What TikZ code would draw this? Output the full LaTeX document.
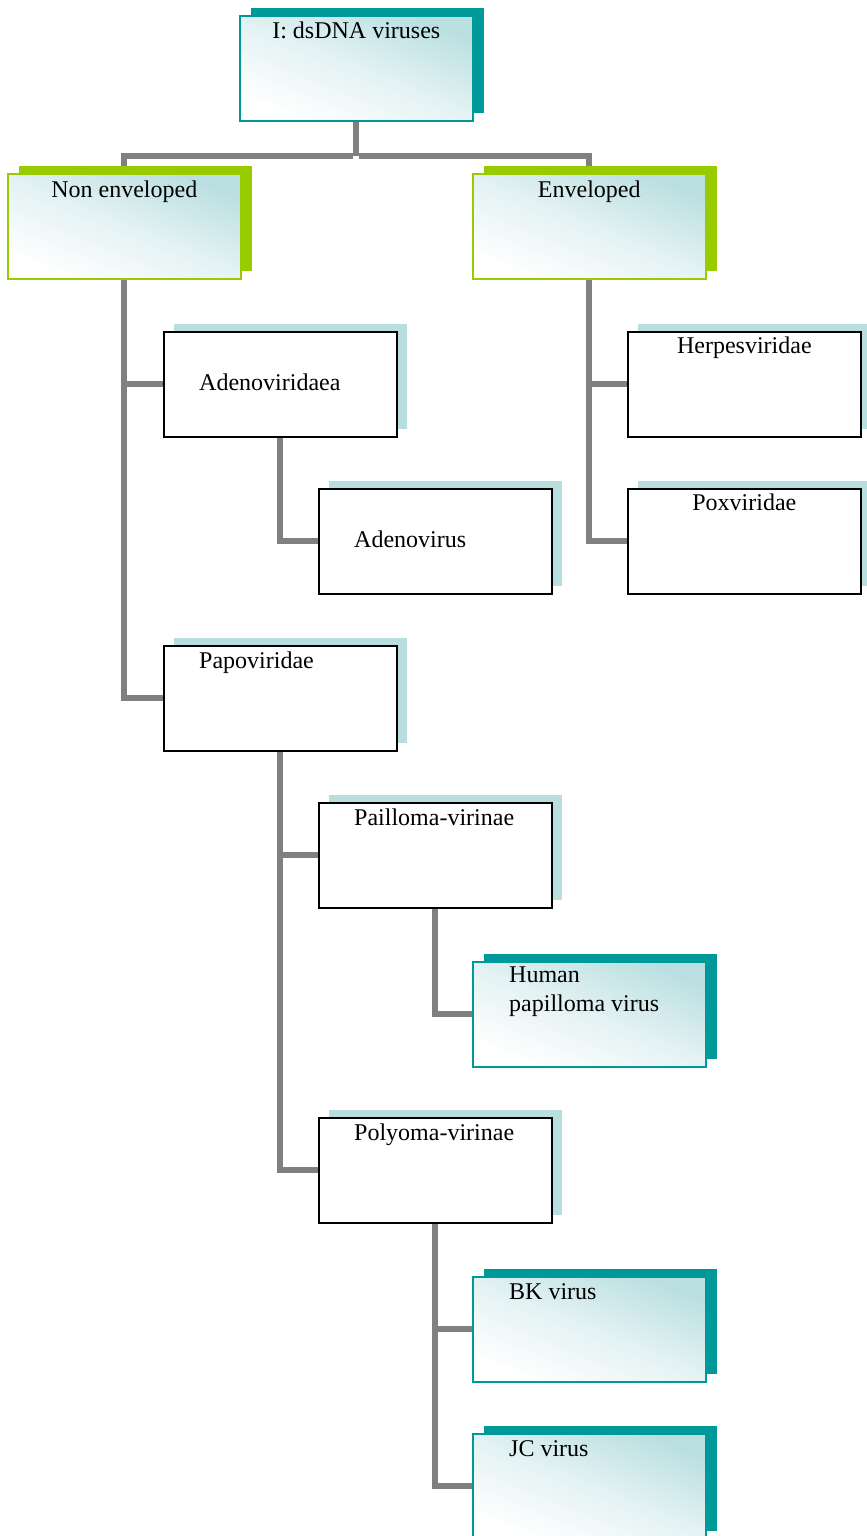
\documentclass[tikz,border=0pt]{standalone}
\usepackage{fontspec}
\setmainfont{Liberation Serif}
\usetikzlibrary{shadows,backgrounds}
\definecolor{tealdark}{HTML}{009999}
\definecolor{limegreen}{HTML}{99CC00}
\definecolor{paleteal}{HTML}{B8DEE0}
\definecolor{gradteal}{HTML}{BADFE1}
\definecolor{gradmid}{HTML}{E4F2F3}
\definecolor{linegray}{HTML}{808080}
\begin{document}
\begin{tikzpicture}[x=1pt,y=1pt,
  box/.style={rectangle, minimum width=233pt, minimum height=105pt, inner sep=0pt, anchor=north west},
  plainbox/.style={box, draw=black, line width=1.7pt, fill=white,
     general shadow={fill=paleteal, shadow xshift=10pt, shadow yshift=8pt}},
  gradbox/.style={box, line width=1.6pt, top color=gradteal, bottom color=white, middle color=gradmid, shading angle=-22},
  tealbox/.style={gradbox, draw=tealdark,
     general shadow={fill=tealdark, shadow xshift=11pt, shadow yshift=8pt}},
  greenbox/.style={gradbox, draw=limegreen,
     general shadow={fill=limegreen, shadow xshift=11pt, shadow yshift=8pt}},
  txt/.style={font=\fontsize{24}{29}\selectfont, inner sep=0pt, text=black},
  conn/.style={draw=linegray, line width=6pt}
]
\useasboundingbox (0,-1536) rectangle (867,0);

% boxes
\node[tealbox] (top) at (239,-15) {};
\node[greenbox] (ne) at (7,-173) {};
\node[greenbox] (env) at (472,-173) {};
\node[plainbox] (adv) at (163,-331) {};
\node[plainbox] (adenovirus) at (318,-488) {};
\node[plainbox] (herpes) at (627,-331) {};
\node[plainbox] (pox) at (627,-488) {};
\node[plainbox] (papo) at (163,-645) {};
\node[plainbox] (pail) at (318,-802) {};
\node[tealbox] (hpv) at (472,-961) {};
\node[plainbox] (poly) at (318,-1117) {};
\node[tealbox] (bk) at (472,-1276) {};
\node[tealbox] (jc) at (472,-1433) {};

% connectors (behind boxes)
\begin{scope}[on background layer]
\fill[white] (0,-1536) rectangle (867,0);
\draw[conn] (top.south) -- ([yshift=-34pt]top.south) coordinate (split);
\draw[conn] ([xshift=-3pt]split) -| (ne.north);
\draw[conn] ([xshift=3pt]split) -| (env.north);
\draw[conn] (ne.south) |- (papo.west);
\draw[conn] (ne.south |- adv.west) -- (adv.west);
\draw[conn] (adv.south) |- (adenovirus.west);
\draw[conn] (env.south) |- (pox.west);
\draw[conn] (env.south |- herpes.west) -- (herpes.west);
\draw[conn] (papo.south) |- (poly.west);
\draw[conn] (papo.south |- pail.west) -- (pail.west);
\draw[conn] (pail.south) |- (hpv.west);
\draw[conn] (poly.south) |- (jc.west);
\draw[conn] (poly.south |- bk.west) -- (bk.west);
\end{scope}

% texts
\node[txt, anchor=base] (ttop) at ([yshift=-24pt]top.north) {I: dsDNA viruses};
\node[txt, anchor=base] (tne) at ([yshift=-24pt]ne.north) {Non enveloped};
\node[txt, anchor=base] (tenv) at ([yshift=-24pt]env.north) {Enveloped};
\node[txt, anchor=base west] (tadv) at ([xshift=36pt,yshift=-59pt]adv.north west) {Adenoviridaea};
\node[txt, anchor=base west] (tadenovirus) at ([xshift=36pt,yshift=-59pt]adenovirus.north west) {Adenovirus};
\node[txt, anchor=base] (therpes) at ([yshift=-22pt]herpes.north) {Herpesviridae};
\node[txt, anchor=base] (tpox) at ([yshift=-22pt]pox.north) {Poxviridae};
\node[txt, anchor=base west] (tpapo) at ([xshift=36pt,yshift=-23pt]papo.north west) {Papoviridae};
\node[txt, anchor=base west] (tpail) at ([xshift=36pt,yshift=-23pt]pail.north west) {Pailloma-virinae};
\node[txt, anchor=north west, align=left] (thpv) at ([xshift=37pt,yshift=-6pt]hpv.north west) {Human\\papilloma virus};
\node[txt, anchor=base west] (tpoly) at ([xshift=36pt,yshift=-23pt]poly.north west) {Polyoma-virinae};
\node[txt, anchor=base west] (tbk) at ([xshift=37pt,yshift=-23pt]bk.north west) {BK virus};
\node[txt, anchor=base west] (tjc) at ([xshift=37pt,yshift=-23pt]jc.north west) {JC virus};
\end{tikzpicture}
\end{document}
